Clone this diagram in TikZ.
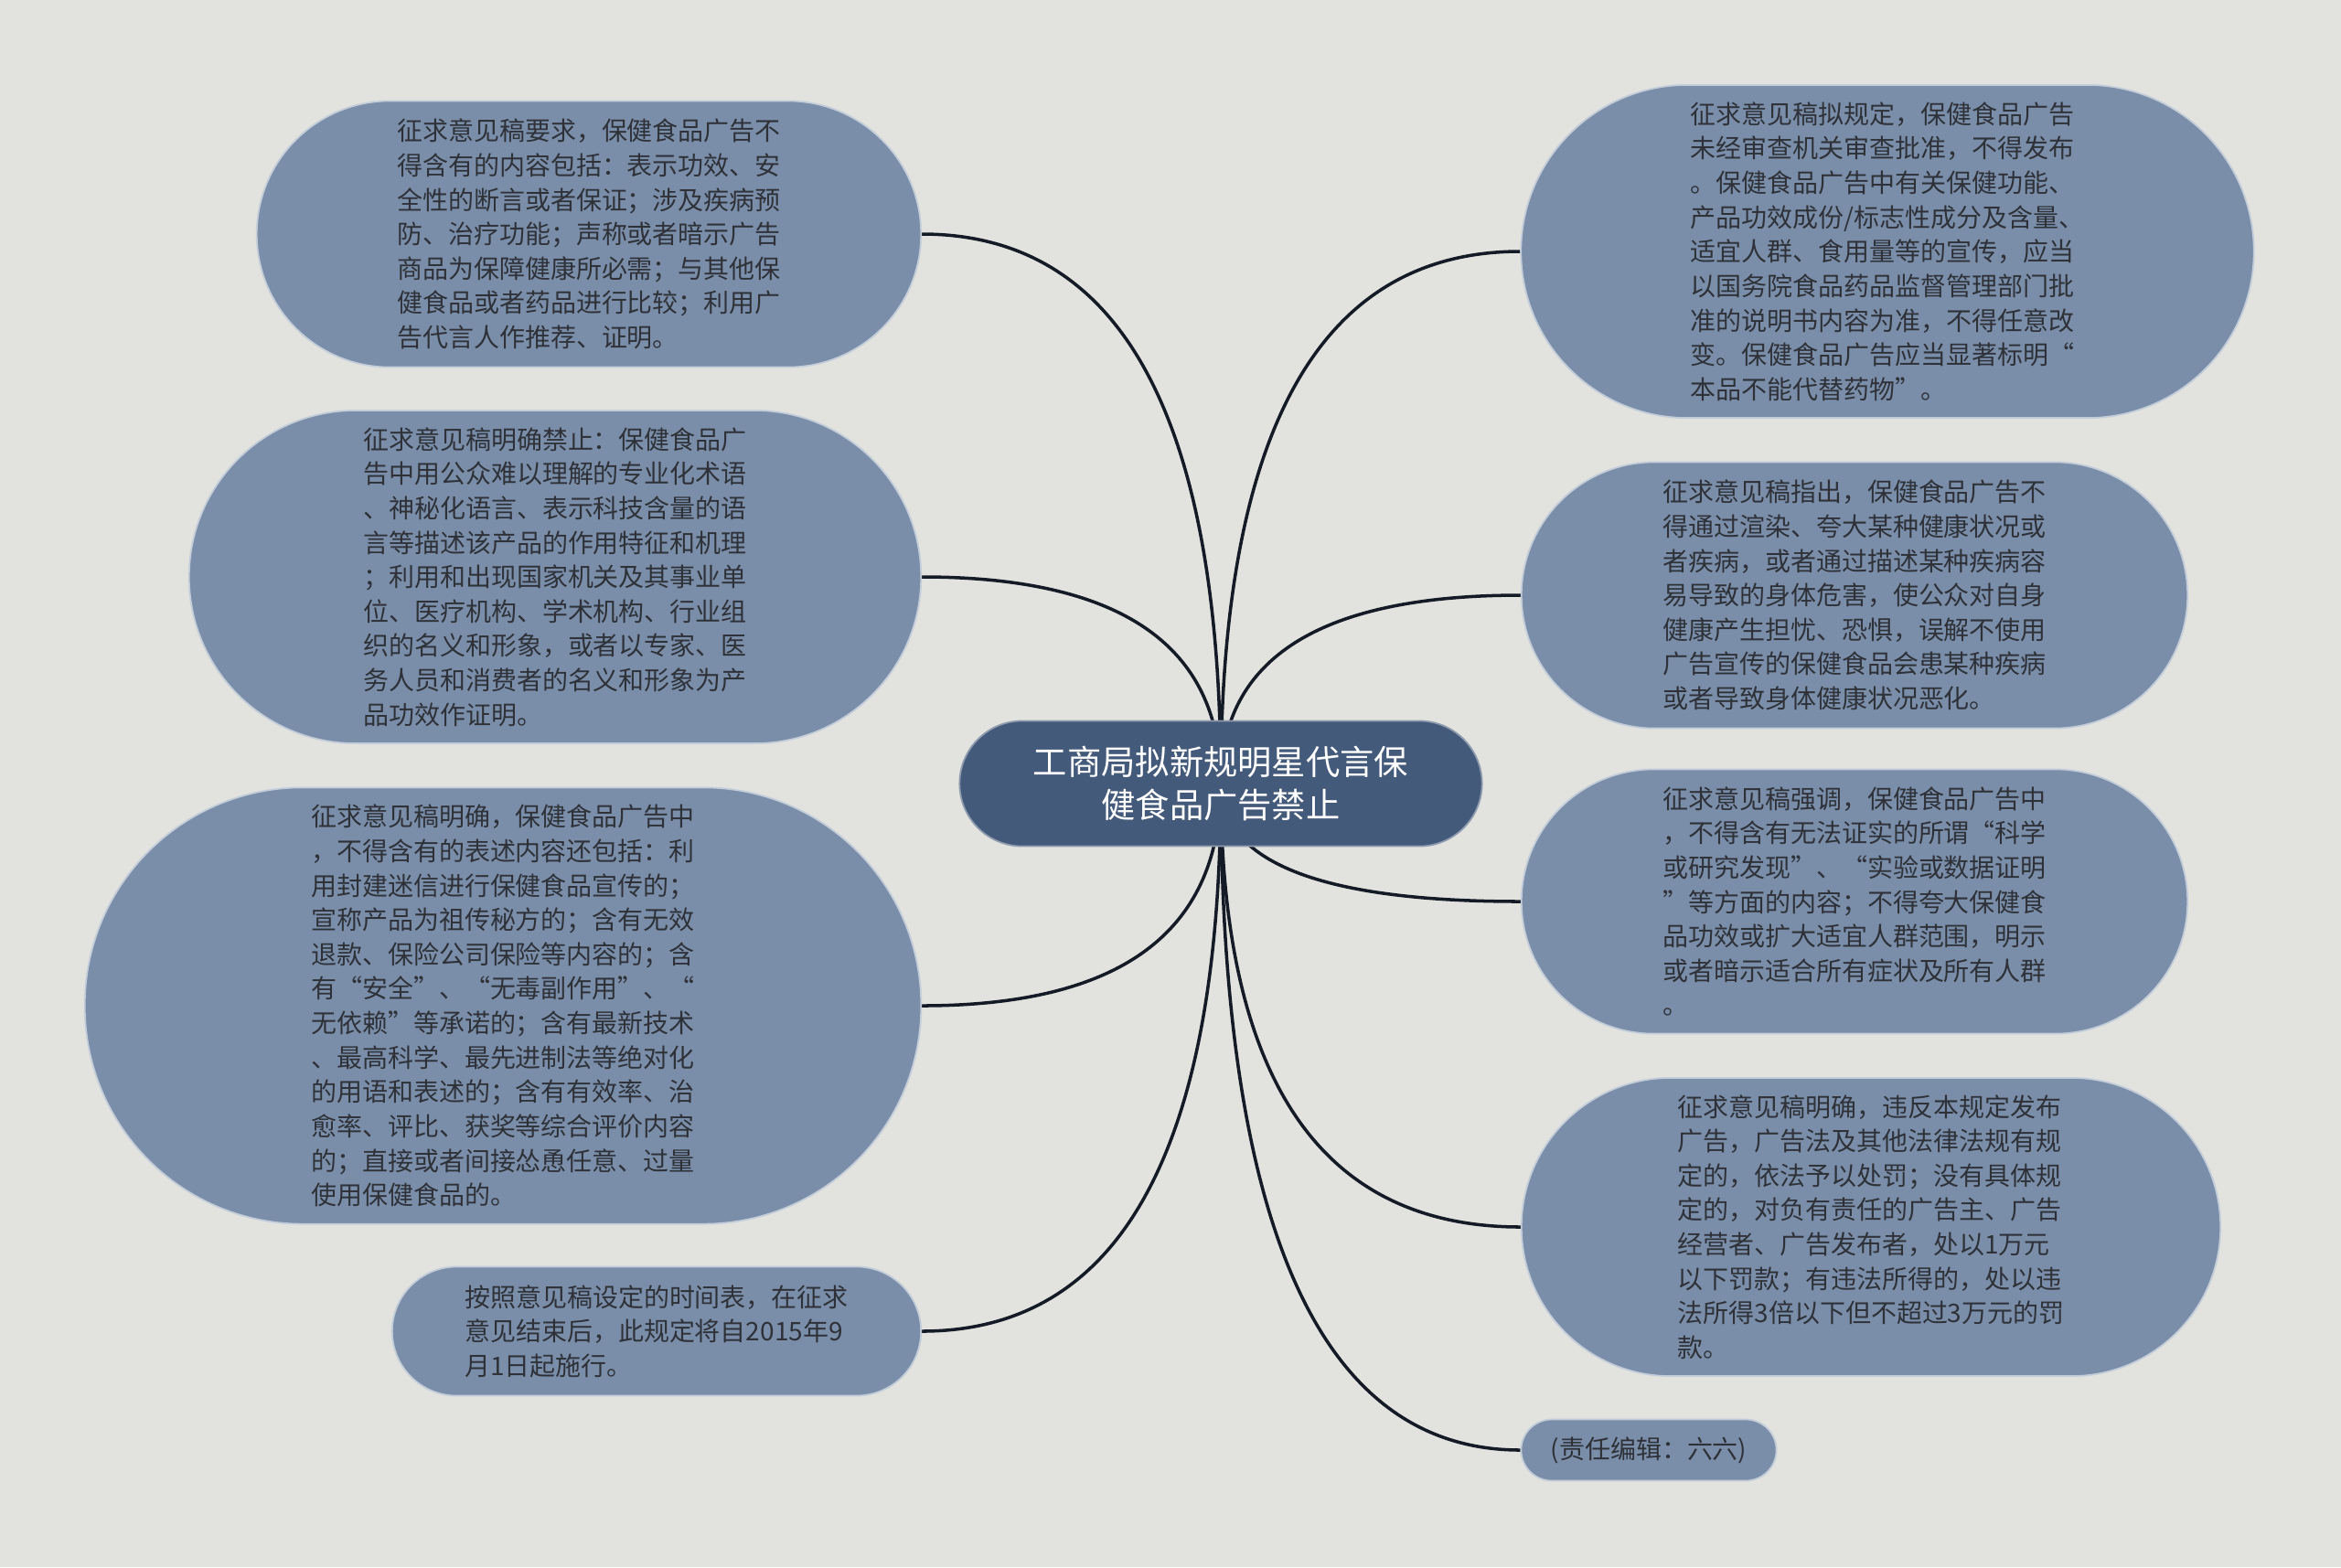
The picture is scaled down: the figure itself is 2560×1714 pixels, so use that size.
\documentclass[tikz,border=0pt]{standalone}
\usepackage{fontspec}
\setmainfont{Noto Sans CJK SC}
\usetikzlibrary{calc, positioning}

\definecolor{paper}{HTML}{E2E3DE}
\definecolor{leafblue}{HTML}{7A8EAA}
\definecolor{rootblue}{HTML}{445A7A}
\definecolor{inkgray}{HTML}{2E3238}
\definecolor{wire}{HTML}{141A26}

\pgfdeclarelayer{edges}
\pgfsetlayers{edges,main}

\begin{document}
\begin{tikzpicture}[
        x=0.01cm, y=-0.01cm,
        leaf/.style={rectangle, fill=leafblue, draw=white!55!leafblue, line width=0.5pt,
            text=inkgray, align=left, inner sep=0pt, font=\fontsize{7.96}{10.7}\selectfont},
        root/.style={rectangle, fill=rootblue, draw=white!40!rootblue, line width=0.5pt,
            text=white, align=center, inner sep=0pt, font=\fontsize{10.6}{13.4}\selectfont},
        link/.style={draw=wire, line width=1pt}
    ]
        \useasboundingbox (0,0) rectangle (2560,1714);

        % Topic
        \node[root, minimum width=5.71cm, minimum height=1.37cm, rounded corners=0.685cm] (topic) at (1335,857)
            {工商局拟新规明星代言保\\健食品广告禁止};

        % Left branches
        \node[leaf, minimum width=7.26cm, minimum height=2.91cm, rounded corners=1.455cm] (demand) at (644,256) {%
            征求意见稿要求，保健食品广告不\\
            得含有的内容包括：表示功效、安\\
            全性的断言或者保证；涉及疾病预\\
            防、治疗功能；声称或者暗示广告\\
            商品为保障健康所必需；与其他保\\
            健食品或者药品进行比较；利用广\\
            告代言人作推荐、证明。};
        \node[leaf, minimum width=8cm, minimum height=3.64cm, rounded corners=1.82cm] (jargon) at (607,631) {%
            征求意见稿明确禁止：保健食品广\\
            告中用公众难以理解的专业化术语\\
            、神秘化语言、表示科技含量的语\\
            言等描述该产品的作用特征和机理\\
            ；利用和出现国家机关及其事业单\\
            位、医疗机构、学术机构、行业组\\
            织的名义和形象，或者以专家、医\\
            务人员和消费者的名义和形象为产\\
            品功效作证明。};
        \node[leaf, minimum width=9.14cm, minimum height=4.77cm, rounded corners=2.38cm] (claims) at (550,1100) {%
            征求意见稿明确，保健食品广告中\\
            ，不得含有的表述内容还包括：利\\
            用封建迷信进行保健食品宣传的；\\
            宣称产品为祖传秘方的；含有无效\\
            退款、保险公司保险等内容的；含\\
            有“安全”、“无毒副作用”、“\\
            无依赖”等承诺的；含有最新技术\\
            、最高科学、最先进制法等绝对化\\
            的用语和表述的；含有有效率、治\\
            愈率、评比、获奖等综合评价内容\\
            的；直接或者间接怂恿任意、过量\\
            使用保健食品的。};
        \node[leaf, minimum width=5.78cm, minimum height=1.41cm, rounded corners=0.705cm] (start) at (718,1456) {%
            按照意见稿设定的时间表，在征求\\
            意见结束后，此规定将自2015年9\\
            月1日起施行。};

        % Right branches
        \node[leaf, minimum width=8.01cm, minimum height=3.64cm, rounded corners=1.82cm] (approval) at (2064,275) {%
            征求意见稿拟规定，保健食品广告\\
            未经审查机关审查批准，不得发布\\
            。保健食品广告中有关保健功能、\\
            产品功效成份/标志性成分及含量、\\
            适宜人群、食用量等的宣传，应当\\
            以国务院食品药品监督管理部门批\\
            准的说明书内容为准，不得任意改\\
            变。保健食品广告应当显著标明“\\
            本品不能代替药物”。};
        \node[leaf, minimum width=7.28cm, minimum height=2.91cm, rounded corners=1.455cm] (fear) at (2028,651) {%
            征求意见稿指出，保健食品广告不\\
            得通过渲染、夸大某种健康状况或\\
            者疾病，或者通过描述某种疾病容\\
            易导致的身体危害，使公众对自身\\
            健康产生担忧、恐惧，误解不使用\\
            广告宣传的保健食品会患某种疾病\\
            或者导致身体健康状况恶化。};
        \node[leaf, minimum width=7.28cm, minimum height=2.89cm, rounded corners=1.445cm] (science) at (2028,986) {%
            征求意见稿强调，保健食品广告中\\
            ，不得含有无法证实的所谓“科学\\
            或研究发现”、“实验或数据证明\\
            ”等方面的内容；不得夸大保健食\\
            品功效或扩大适宜人群范围，明示\\
            或者暗示适合所有症状及所有人群\\
            。};
        \node[leaf, minimum width=7.64cm, minimum height=3.26cm, rounded corners=1.63cm] (penalty) at (2046,1342) {%
            征求意见稿明确，违反本规定发布\\
            广告，广告法及其他法律法规有规\\
            定的，依法予以处罚；没有具体规\\
            定的，对负有责任的广告主、广告\\
            经营者、广告发布者，处以1万元\\
            以下罚款；有违法所得的，处以违\\
            法所得3倍以下但不超过3万元的罚\\
            款。};
        \node[leaf, minimum width=2.79cm, minimum height=0.67cm, rounded corners=0.335cm] (editor) at (1803,1586)
            {(责任编辑：六六)};

        % Connections
        \begin{pgfonlayer}{edges}
            \fill[paper] (0,0) rectangle (2560,1714);
            \foreach \n in {demand, jargon, claims, start}
                \draw[link] (topic.center) .. controls ($(topic.center)!0.667!(topic.center |- \n.east)$)
                    and ($(\n.east)!0.667!(topic.center |- \n.east)$) .. (\n.east);
            \foreach \n in {approval, fear, science, penalty, editor}
                \draw[link] (topic.center) .. controls ($(topic.center)!0.667!(topic.center |- \n.west)$)
                    and ($(\n.west)!0.667!(topic.center |- \n.west)$) .. (\n.west);
        \end{pgfonlayer}

    \end{tikzpicture}
\end{document}
